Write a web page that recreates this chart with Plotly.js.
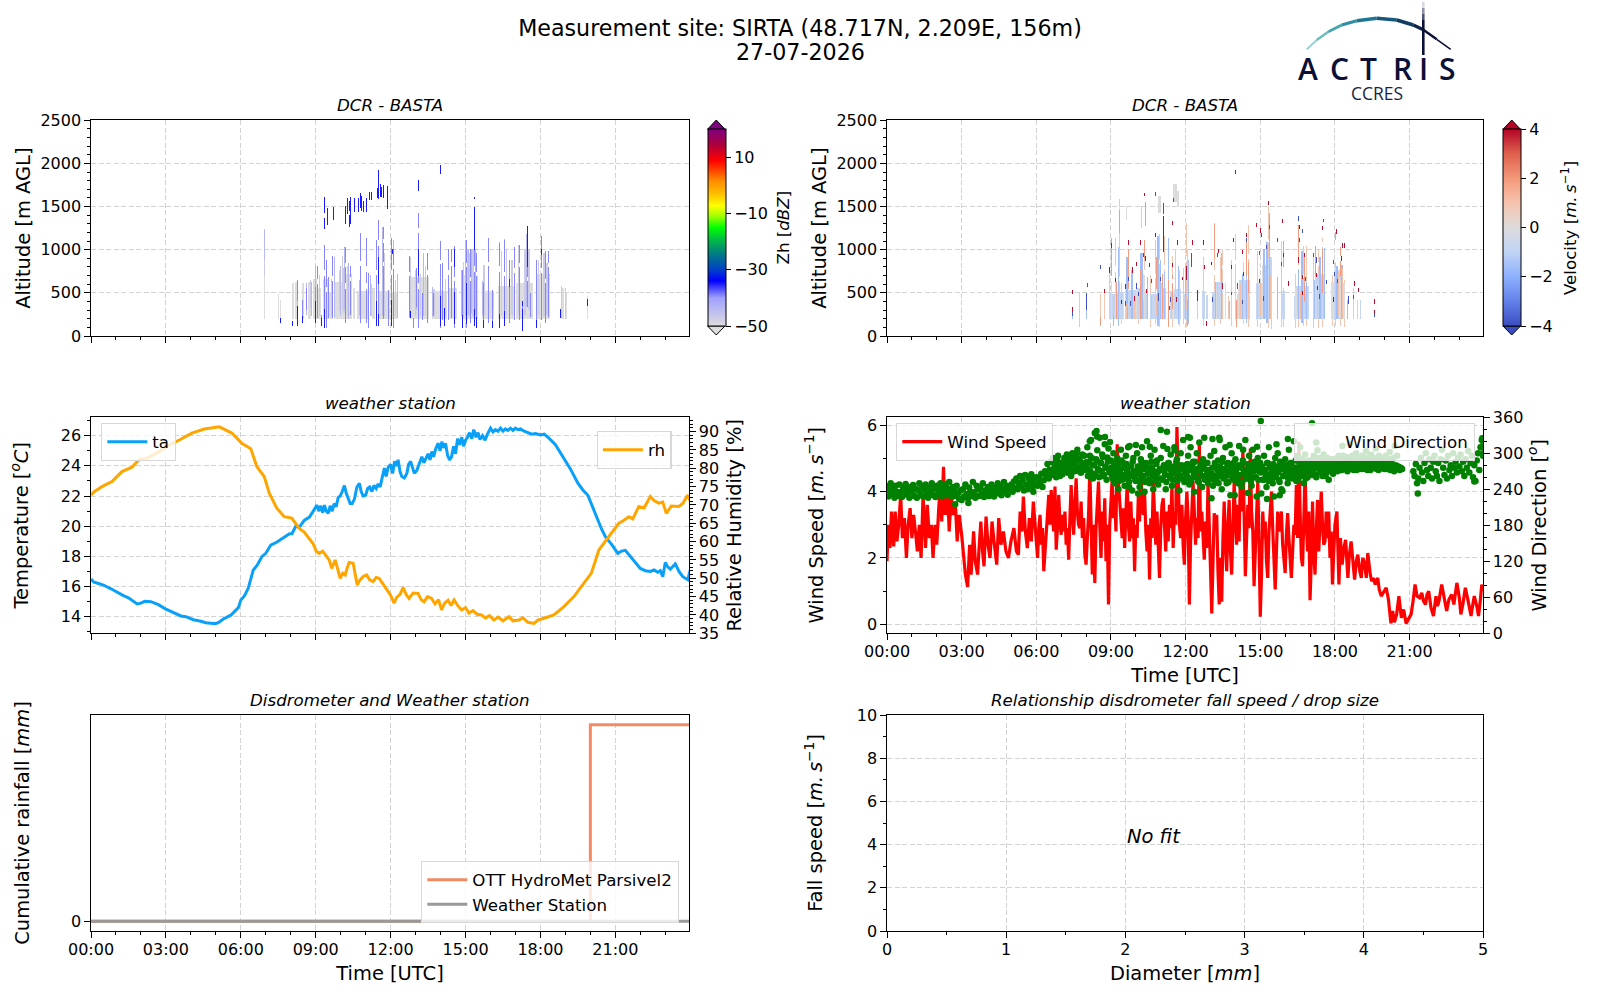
<!DOCTYPE html>
<html>
<head>
<meta charset="utf-8">
<script src="https://cdn.plot.ly/plotly-3.0.1.min.js"></script>
<style>
  body { margin: 0; background: #fff; }
  #chart { width: 1600px; height: 1000px; }
</style>
</head>
<body>
<div id="chart"></div>
<script>
// ---- tick labels ----
const timeTickVals = [0, 3, 6, 9, 12, 15, 18, 21];
const timeTickText = ['00:00', '03:00', '06:00', '09:00', '12:00', '15:00', '18:00', '21:00'];

// ---- radar curtains: [start hour, end hour, base m, top m] ----
const zhGrey = [[6.93,6.93,204,1230],[7.49,7.49,204,480],[7.57,7.57,204,420],[8.07,8.09,204,600],[8.2,8.28,204,620],[8.45,8.5,204,600],[8.68,8.78,204,620],[8.88,9.0,204,660],[9.02,9.2,204,560],[9.3,9.5,204,650],[9.55,9.66,204,500],[9.75,10.02,204,620],[10.06,10.4,204,720],[10.5,10.55,204,560],[10.65,11.1,204,520],[11.25,11.35,204,560],[11.55,11.95,204,520],[12.02,12.27,204,500],[12.8,13.55,204,680],[13.7,14.27,204,520],[14.35,14.65,204,560],[14.9,15.5,204,700],[15.7,16.15,204,520],[16.35,16.95,204,580],[17.05,17.7,204,600],[17.85,18.4,204,720],[18.85,18.95,204,560],[19.05,19.08,204,500],[19.9,19.9,204,450]];
const zhPale = [[6.93,6.93,700,1230],[8.27,8.27,300,620],[8.77,8.77,330,640],[9.15,9.15,240,700],[9.6,9.6,240,650],[9.95,9.95,300,760],[10.05,10.06,300,920],[10.12,10.13,280,780],[10.26,10.27,240,800],[10.76,10.77,240,1000],[11.08,11.08,260,720],[11.2,11.2,240,590],[11.7,11.72,240,960],[12.2,12.21,240,640],[12.82,12.83,240,900],[13.0,13.01,240,760],[13.2,13.23,260,720],[13.42,13.43,240,800],[13.75,13.76,240,540],[14.2,14.2,240,660],[14.45,14.45,250,860],[14.93,14.94,240,850],[15.05,15.08,240,1000],[15.18,15.2,240,960],[15.28,15.32,240,1000],[15.44,15.46,240,900],[15.75,15.76,260,820],[16.12,16.13,300,500],[16.46,16.47,260,980],[16.66,16.67,260,1000],[16.88,16.89,260,880],[17.15,17.16,250,1050],[17.4,17.41,260,1000],[17.55,17.58,300,1000],[17.92,17.93,260,880],[18.12,18.16,240,960],[18.27,18.3,260,840],[18.88,18.88,204,580],[19.0,19.0,204,560]];
const zhLight = [[6.93,6.93,900,1220],[8.24,8.24,240,560],[8.62,8.62,250,600],[8.8,8.8,240,620],[8.96,8.96,300,800],[9.72,9.72,230,900],[9.96,9.96,260,800],[10.15,10.16,300,1030],[10.3,10.3,200,840],[10.72,10.72,260,640],[11.18,11.18,240,700],[11.66,11.66,240,1260],[12.13,12.13,220,1100],[12.3,12.3,220,720],[12.79,12.79,220,920],[13.04,13.04,300,780],[13.34,13.34,240,950],[13.48,13.48,260,930],[13.7,13.7,230,570],[14.1,14.1,240,830],[14.32,14.32,260,1000],[14.85,14.85,240,760],[15.0,15.0,240,1110],[15.14,15.14,260,1000],[15.25,15.25,280,1000],[15.42,15.42,250,1000],[15.7,15.7,260,630],[15.93,15.93,250,1130],[16.37,16.37,210,1080],[16.57,16.57,230,1120],[16.77,16.77,280,880],[16.97,16.97,260,1030],[17.18,17.18,280,1060],[17.46,17.48,340,1180],[17.88,17.88,240,880],[18.08,18.08,240,1150],[18.2,18.2,240,980],[18.33,18.33,280,980]];
const zhMid = [[7.57,7.57,150,210],[8.27,8.27,420,640],[8.47,8.47,170,420],[8.6,8.6,300,550],[8.97,8.97,160,570],[9.05,9.05,220,800],[9.22,9.22,130,240],[9.34,9.34,300,1060],[9.4,9.4,110,880],[9.5,9.5,220,680],[9.67,9.67,220,920],[10.2,10.2,150,1030],[10.36,10.36,260,810],[10.76,10.76,150,1190],[11.01,11.01,150,1130],[11.11,11.11,110,730],[11.41,11.41,150,1110],[11.48,11.48,130,1340],[11.68,11.68,200,1260],[11.9,11.9,130,530],[12.06,12.06,150,1130],[12.15,12.15,110,1000],[12.78,12.78,230,920],[12.92,12.92,110,210],[13.04,13.04,340,780],[13.15,13.15,110,1420],[13.29,13.29,190,490],[13.49,13.49,150,950],[13.73,13.73,240,490],[14.0,14.0,110,1090],[14.09,14.09,190,840],[14.32,14.32,190,1010],[14.47,14.47,220,1000],[14.56,14.56,110,1040],[14.89,14.89,110,760],[15.07,15.07,110,1110],[15.2,15.2,150,1000],[15.36,15.36,130,1490],[15.47,15.47,110,960],[15.73,15.73,110,600],[15.93,15.93,150,1130],[16.11,16.11,110,530],[16.37,16.37,110,1070],[16.57,16.57,130,1110],[16.77,16.77,150,880],[16.97,16.97,190,1030],[17.17,17.17,190,1050],[17.3,17.3,70,400],[17.5,17.5,340,1265],[17.63,17.63,230,490],[17.88,17.88,110,880],[18.08,18.08,190,1150],[18.2,18.2,150,980],[18.33,18.33,230,980]];
const zhDark = [[7.57,7.57,155,205],[8.07,8.07,130,165],[8.27,8.27,130,340],[8.47,8.47,150,230],[8.97,8.97,160,400],[9.23,9.23,130,200],[9.34,9.34,110,300],[9.32,9.32,1240,1610],[9.36,9.36,1380,1560],[9.46,9.46,1290,1480],[9.68,9.68,1360,1490],[10.2,10.2,1300,1500],[10.26,10.26,1420,1590],[10.33,10.33,1270,1560],[10.38,10.38,1300,1600],[10.54,10.54,1440,1595],[10.7,10.7,1440,1590],[10.76,10.76,1490,1660],[10.82,10.82,1460,1620],[10.9,10.9,1440,1560],[11.03,11.03,1440,1590],[11.15,11.15,1575,1670],[11.2,11.2,1575,1670],[11.45,11.45,1600,1700],[11.48,11.48,1590,1920],[11.56,11.56,1620,1760],[11.62,11.62,1620,1720],[11.7,11.7,1600,1740],[11.86,11.86,1480,1730],[11.41,11.41,130,400],[11.48,11.48,130,260],[11.48,11.48,600,900],[12.06,12.06,130,420],[12.08,12.08,950,1010],[12.83,12.83,220,280],[13.15,13.15,1697,1805],[13.15,13.15,700,1000],[14.0,14.0,1875,1979],[14.0,14.0,130,450],[14.16,14.16,130,320],[14.56,14.56,140,500],[14.58,14.58,800,1000],[14.89,14.89,110,240],[15.07,15.07,140,600],[15.36,15.36,1000,1490],[15.36,15.36,1590,1600],[15.38,15.38,130,310],[15.47,15.47,110,220],[15.73,15.73,110,180],[16.11,16.11,110,170],[16.37,16.37,110,250],[16.57,16.57,130,280],[16.77,16.77,580,650],[17.3,17.3,70,300],[17.3,17.3,360,400],[17.5,17.5,800,1265],[17.88,17.88,110,180],[18.08,18.08,940,1010],[18.82,18.82,220,300],[19.9,19.9,360,430]];
// breaks in the tall strands, where the echo drops out
const zhHoles = [[9.32,9.32,1380,1420],[9.34,9.34,700,760],[9.4,9.4,520,570],[9.05,9.05,600,650],[9.67,9.67,640,690],[10.2,10.2,800,840],[10.2,10.2,560,600],[10.36,10.36,640,680],[10.33,10.33,1400,1440],[10.76,10.76,820,870],[11.01,11.01,760,800],[11.01,11.01,560,600],[11.41,11.41,720,760],[11.48,11.48,1060,1110],[11.68,11.68,820,860],[11.68,11.68,1080,1120],[12.06,12.06,720,760],[12.15,12.15,780,820],[12.78,12.78,700,740],[13.15,13.15,560,600],[13.15,13.15,1200,1240],[13.49,13.49,720,760],[14.0,14.0,840,880],[14.32,14.32,720,760],[14.47,14.47,820,860],[14.56,14.56,640,680],[15.07,15.07,800,840],[15.2,15.2,640,680],[15.36,15.36,760,800],[15.47,15.47,700,740],[15.93,15.93,820,860],[16.37,16.37,760,800],[16.57,16.57,700,740],[16.97,16.97,740,780],[17.17,17.17,800,840],[17.5,17.5,640,680],[18.08,18.08,740,780],[18.2,18.2,620,660],[18.33,18.33,800,840]];

const velPeachLong = [[7.72,7.72,120,500],[8.59,8.59,204,480],[8.74,8.74,204,500],[8.94,8.94,204,740],[9.18,9.18,204,1130],[9.32,9.32,204,1300],[9.32,9.32,1180,1580],[9.42,9.42,140,600],[9.9,9.9,204,520],[10.12,10.12,140,560],[10.34,10.34,204,1000],[10.22,10.22,1250,1500],[10.58,10.58,120,700],[10.76,10.76,140,1100],[10.92,10.92,120,1180],[11.0,11.0,204,600],[11.12,11.12,204,1160],[11.44,11.44,120,920],[11.58,11.58,204,1000],[11.72,11.72,130,760],[11.9,11.9,140,780],[12.04,12.04,120,1300],[12.1,12.1,130,1000],[12.51,12.51,204,530],[12.74,12.74,130,900],[13.08,13.08,204,500],[13.16,13.16,130,1300],[13.4,13.4,140,900],[13.5,13.5,204,1000],[13.72,13.72,204,460],[13.84,13.84,130,880],[14.0,14.0,204,1180],[14.34,14.34,140,860],[14.52,14.52,120,1280],[14.88,14.88,120,980],[15.34,15.34,110,1500],[15.46,15.46,90,820],[15.86,15.86,120,1090],[15.94,15.94,120,560],[16.42,16.42,110,720],[16.56,16.56,120,1240],[16.74,16.74,130,1040],[16.86,16.86,130,1040],[17.14,17.14,110,900],[17.32,17.32,110,1000],[17.5,17.5,120,1130],[17.9,17.9,130,700],[18.02,18.02,130,860],[18.22,18.22,130,1030],[18.38,18.38,120,640],[18.75,18.75,204,560],[18.9,18.9,204,420]];
const velPale = [[8.96,9.02,204,500],[9.06,9.2,204,480],[9.24,9.5,204,500],[9.56,10.0,204,530],[10.05,10.3,204,560],[10.36,10.41,204,520],[10.57,11.0,204,480],[11.04,11.17,204,560],[11.37,11.46,204,520],[11.52,11.77,204,540],[11.9,12.1,204,480],[12.71,12.76,204,520],[12.85,12.91,204,470],[13.11,13.22,204,500],[13.26,13.51,204,620],[14.11,14.14,204,480],[14.16,14.58,204,640],[14.85,15.08,204,600],[15.14,15.26,204,820],[15.3,15.45,204,900],[15.9,15.96,204,520],[16.38,16.42,204,460],[16.46,16.92,204,580],[17.12,17.2,204,520],[17.24,17.59,204,720],[17.85,17.88,204,620],[17.96,18.18,204,760],[18.24,18.3,204,800],[18.38,18.39,204,460],[18.9,18.9,204,420],[19.0,19.02,204,420]];
const velGrey = [[9.02,9.04,204,620],[9.2,9.22,204,600],[9.5,9.52,204,500],[10.0,10.02,204,560],[10.3,10.32,204,720],[11.02,11.02,204,500],[11.46,11.48,204,480],[13.22,13.24,204,540],[13.6,13.62,204,600],[14.14,14.14,204,540],[15.08,15.1,204,820],[15.26,15.28,204,900],[16.42,16.44,204,560],[17.2,17.22,204,640],[17.88,17.92,204,600],[18.18,18.2,204,640],[18.32,18.36,204,600],[10.9,10.98,1430,1620],[11.5,11.6,1560,1760],[11.66,11.68,1500,1680],[9.32,9.33,1300,1500],[9.61,9.61,1350,1500]];
const velSky = [[7.47,7.47,204,250],[8.02,8.02,204,300],[9.1,9.12,130,460],[9.3,9.3,130,1030],[9.62,9.64,204,900],[9.8,9.84,204,760],[10.2,10.24,204,960],[10.44,10.44,204,680],[10.86,10.88,130,1160],[10.96,10.96,204,880],[11.14,11.14,204,740],[11.28,11.28,204,1130],[11.7,11.7,140,800],[11.96,11.96,204,820],[12.12,12.12,140,880],[13.2,13.2,204,620],[13.44,13.44,204,950],[13.78,13.78,204,400],[14.3,14.3,204,720],[14.44,14.44,150,900],[15.14,15.16,204,1000],[15.26,15.28,150,1080],[15.36,15.38,204,1340],[15.68,15.68,204,680],[16.52,16.52,204,760],[16.66,16.68,150,980],[16.86,16.86,204,620],[17.18,17.18,204,640],[17.4,17.42,204,900],[17.58,17.58,204,1020],[18.08,18.1,204,800],[18.26,18.28,204,820],[18.5,18.5,204,420]];
const velPeachShort = [[9.1,9.1,260,440],[9.26,9.26,204,480],[9.44,9.44,300,500],[9.6,9.6,204,380],[9.74,9.74,260,500],[9.92,9.92,204,420],[10.14,10.14,320,540],[10.28,10.28,204,400],[10.62,10.62,204,460],[10.8,10.8,240,470],[10.94,10.94,204,440],[11.08,11.08,300,540],[11.42,11.42,204,500],[11.56,11.56,260,480],[11.74,11.74,204,400],[12.02,12.02,204,470],[12.06,12.06,300,470],[13.14,13.14,204,480],[13.3,13.3,240,600],[13.48,13.48,204,480],[14.2,14.2,204,600],[14.4,14.4,280,620],[14.54,14.54,204,620],[14.9,14.9,204,580],[15.04,15.04,240,590],[15.22,15.22,204,800],[15.42,15.42,204,700],[16.5,16.5,240,560],[16.62,16.62,204,500],[16.8,16.8,260,560],[17.28,17.28,204,700],[17.44,17.44,240,680],[17.56,17.56,204,600],[18.0,18.0,204,700],[18.14,18.14,240,740],[18.28,18.28,204,780]];
const velOrange = [[8.59,8.59,130,220],[9.02,9.02,700,1130],[9.22,9.22,204,620],[9.33,9.33,1210,1460],[9.7,9.7,560,1000],[10.18,10.18,204,760],[10.32,10.32,900,1100],[10.36,10.36,1280,1540],[10.8,10.8,560,900],[11.06,11.06,204,720],[11.3,11.3,120,640],[11.44,11.44,320,700],[12.02,12.02,500,1000],[12.1,12.1,130,420],[13.16,13.16,900,1290],[14.06,14.06,120,420],[14.47,14.47,700,1090],[14.52,14.52,500,860],[15.36,15.36,1000,1420],[15.92,15.92,800,1090],[16.56,16.56,900,1280],[16.76,16.76,400,960],[17.2,17.2,700,1040],[17.5,17.5,500,1000],[18.22,18.22,700,1030],[18.0,18.0,1120,1210]];
const velRed = [[7.47,7.47,495,525],[7.47,7.47,295,325],[8.74,8.74,505,540],[8.94,8.94,745,790],[9.02,9.02,1035,1070],[9.2,9.2,630,670],[9.57,9.57,550,590],[9.7,9.7,1070,1110],[9.87,9.87,745,790],[10.03,10.03,815,855],[10.17,10.17,1070,1110],[10.34,10.34,1625,1660],[10.37,10.37,880,920],[10.54,10.54,800,840],[10.78,10.78,1150,1190],[11.1,11.1,976,1380],[11.44,11.44,805,840],[11.46,11.46,1295,1330],[11.64,11.64,1070,1110],[11.84,11.84,650,685],[12.04,12.04,650,800],[12.28,12.28,1070,1110],[12.51,12.51,417,532],[12.75,12.75,1070,1110],[12.78,12.78,785,820],[12.84,12.84,130,165],[13.04,13.04,825,860],[13.35,13.35,970,1005],[13.84,13.84,785,820],[13.95,13.95,1095,1130],[14.0,14.0,1880,1920],[14.29,14.29,960,995],[14.47,14.47,1150,1190],[14.87,14.87,1265,1305],[15.0,15.0,1210,1245],[15.32,15.32,1525,1560],[15.88,15.88,1315,1350],[15.92,15.92,920,955],[16.12,16.12,590,630],[16.52,16.52,860,900],[16.58,16.58,1245,1285],[16.72,16.72,670,705],[16.78,16.78,920,955],[17.25,17.25,690,725],[17.48,17.48,1230,1265],[18.05,18.05,1190,1225],[18.25,18.25,880,920],[18.3,18.3,1035,1070],[18.36,18.36,1035,1070],[18.79,18.79,590,630],[18.95,18.95,515,550],[19.57,19.57,378,436],[19.57,19.57,240,290],[9.4,9.4,380,420],[9.95,9.95,420,460],[10.4,10.4,500,540],[11.62,11.62,400,440],[13.5,13.5,560,600],[14.32,14.32,700,740],[14.96,14.96,620,660],[16.68,16.68,480,520],[17.3,17.3,540,580],[17.95,17.95,400,440]];
const velBlue = [[7.47,7.47,245,280],[8.0,8.0,300,494],[8.05,8.05,575,610],[8.59,8.59,785,820],[9.57,9.57,360,400],[9.77,9.77,360,400],[10.3,10.3,920,955],[10.03,10.03,560,600],[10.6,10.6,620,660],[10.78,10.78,1630,1670],[10.9,10.9,417,494],[11.1,11.1,1420,1535],[11.5,11.5,1560,1590],[11.38,11.38,400,440],[12.0,12.0,1150,1190],[12.27,12.27,802,957],[13.08,13.08,400,440],[13.31,13.31,920,955],[13.84,13.84,480,510],[14.1,14.1,560,600],[14.47,14.47,1095,1130],[14.96,14.96,940,980],[15.05,15.05,1150,1190],[15.25,15.25,1015,1050],[15.38,15.38,1245,1285],[15.69,15.69,1095,1130],[15.84,15.84,820,860],[16.52,16.52,1345,1380],[16.58,16.58,1095,1130],[16.72,16.72,1200,1235],[17.12,17.12,920,955],[17.25,17.25,860,900],[17.56,17.56,1325,1360],[17.92,17.92,845,880],[17.98,17.98,700,740],[17.66,17.66,600,640],[18.52,18.52,378,455],[18.75,18.75,440,470],[19.57,19.57,225,260],[9.7,9.7,640,680],[10.12,10.12,470,510],[10.96,10.96,640,680],[11.32,11.32,300,340],[14.3,14.3,380,420],[15.14,15.14,420,460],[16.8,16.8,640,680],[17.36,17.36,440,480],[18.1,18.1,620,660]];
const velHoles = [[9.18,9.18,760,810],[9.32,9.32,640,680],[10.34,10.34,720,760],[10.76,10.76,680,720],[10.92,10.92,840,880],[11.12,11.12,780,820],[11.44,11.44,620,660],[12.04,12.04,880,920],[13.16,13.16,720,760],[13.5,13.5,780,820],[14.0,14.0,840,880],[14.52,14.52,900,940],[15.34,15.34,1080,1120],[15.86,15.86,820,860],[16.56,16.56,780,820],[16.74,16.74,680,720],[17.32,17.32,820,860],[17.5,17.5,1040,1080],[18.22,18.22,880,920]];

// ---- weather station ----
const tempHours = [0,0.1,0.3,0.5,0.8,1,1.3,1.5,1.7,1.85,2,2.15,2.4,2.7,3,3.3,3.6,3.8,4.1,4.4,4.6,4.9,5,5.1,5.3,5.6,5.9,6,6.15,6.3,6.5,6.65,6.85,7,7.2,7.45,7.75,7.95,8.05,8.2,8.35,8.55,8.75,9.05,9.12,9.2,9.28,9.35,9.42,9.5,9.58,9.66,9.74,9.82,9.9,9.98,10.06,10.15,10.22,10.3,10.38,10.46,10.55,10.65,10.75,10.82,10.9,11,11.08,11.16,11.25,11.33,11.42,11.5,11.58,11.66,11.75,11.82,11.9,12,12.08,12.16,12.24,12.3,12.38,12.45,12.55,12.65,12.72,12.8,12.88,12.95,13.05,13.15,13.25,13.33,13.4,13.5,13.58,13.65,13.72,13.8,13.9,13.98,14.05,14.12,14.2,14.28,14.36,14.44,14.52,14.6,14.68,14.76,14.85,14.92,15,15.08,15.16,15.25,15.33,15.42,15.5,15.58,15.68,15.78,15.88,16,16.1,16.2,16.3,16.4,16.5,16.6,16.7,16.8,16.9,17,17.1,17.2,17.35,17.5,17.65,17.8,18,18.15,18.3,18.6,18.9,19.2,19.5,19.7,19.9,20.1,20.3,20.45,20.6,20.85,21.1,21.25,21.4,21.7,22,22.2,22.4,22.55,22.7,22.8,22.9,23,23.1,23.2,23.3,23.4,23.55,23.7,23.9,24];
const tempValues = [16.5,16.3,16.2,16.1,15.85,15.65,15.4,15.25,15,14.85,14.9,15.02,15,14.8,14.5,14.25,14.05,14,13.8,13.7,13.6,13.55,13.55,13.6,13.85,14.1,14.6,15.1,15.4,15.9,17.1,17.4,18,18.2,18.75,18.95,19.3,19.5,19.5,20,19.95,20.4,20.6,21.4,21,21.35,20.9,21.4,21,20.85,21.35,21,21.5,21.3,21.9,22,22.3,22.7,22.2,21.9,21.5,21.5,21.8,22.6,22.85,22.3,22,22.05,22.5,22.6,22.3,22.7,22.5,22.8,22.6,23.2,23.85,23.3,23.9,24.1,23.5,24.3,24,24.4,23.6,23.3,23.2,23.5,24.1,24.3,23.8,23.5,23.7,24.2,24.6,24.2,24.5,24.8,24.4,24.95,24.6,25.1,25.5,25,25.6,25.2,25.5,24.7,24.4,24.6,25.3,24.8,25.8,25.4,25.9,25.3,25.7,25.9,26.2,25.8,26.4,25.9,26.2,25.75,26,25.7,26.1,26.5,26.25,26.4,26.3,26.5,26.3,26.45,26.35,26.5,26.35,26.5,26.4,26.45,26.3,26.2,26.1,26.15,26.05,26.1,25.9,25.4,24.6,23.8,22.85,22.4,22.05,21.2,20.4,19.8,19.3,18.8,18.2,18.35,18.4,17.8,17.2,17.05,17,17.1,16.95,17.05,16.65,17.6,17.3,17.15,17.3,17.5,17,16.65,16.45,17.1];
const rhHours = [0,0.14,0.44,0.84,1.24,1.64,1.94,2.24,2.74,3.14,3.54,4.04,4.54,5.14,5.64,6.04,6.4,6.64,6.94,7.14,7.44,7.74,8.04,8.34,8.54,8.74,8.9,9.02,9.14,9.28,9.44,9.54,9.64,9.78,9.9,9.98,10.08,10.18,10.26,10.34,10.5,10.66,10.76,10.9,11.04,11.16,11.3,11.42,11.54,11.7,11.84,12,12.14,12.24,12.38,12.5,12.62,12.74,12.9,13.1,13.22,13.34,13.48,13.64,13.78,13.92,14.04,14.16,14.3,14.42,14.54,14.68,14.84,15,15.14,15.3,15.46,15.64,15.8,15.96,16.14,16.3,16.5,16.74,16.9,17.14,17.3,17.5,17.74,17.9,18.14,18.54,18.94,19.34,20.04,20.34,20.64,20.9,21.14,21.3,21.54,21.7,21.94,22.15,22.4,22.55,22.74,22.9,23.04,23.24,23.54,23.7,23.9,24];
const rhValues = [72.7,73.7,75,76.4,79.1,80.3,82.5,82.7,84.6,86.4,87.7,89.6,90.7,91.3,89.6,86.8,85.3,80.5,77.7,73.2,69.1,66.8,66.4,63.6,62.6,60.9,59.4,57.4,56.8,57.4,55.9,55,52.7,55,52,50,51.4,50.9,52.8,54.3,54.1,48.2,49.4,50.5,50.9,49.6,49.1,50.2,50,48.4,47.3,45.4,43.2,44.8,45.6,47.5,45.6,44.5,46,45.9,44.2,43.6,45,44.5,43,44.2,41.4,43.2,44,42.6,44.1,42.6,41.4,42,40.5,41.2,40.2,40,39.2,39.8,38.6,39.4,38.4,39.5,38.4,38.6,39.2,38,37.7,38.6,39.1,40,42.3,45,51.4,57.7,60.5,62.8,65,65.6,66.8,66.2,69.6,69.2,72.3,71.2,70.5,70.8,67.7,69.7,69.6,70.4,72.7,71];

const windHours = [
  0,0.05,0.12,0.18,0.27,0.33,0.4,0.47,0.55,0.62,0.7,0.78,0.85,0.93,1,1.07,1.15,1.22,1.3,1.37,1.45,1.55,1.62,1.7,1.78,1.85,1.93,2,2.08,2.15,2.2,2.27,2.34,2.42,2.5,2.58,2.66,2.75,2.82,2.9,3,3.08,3.15,3.24,3.32,3.38,3.48,3.55,3.64,3.7,3.77,3.84,3.9,3.98,4.06,4.14,4.22,4.3,4.41,4.49,4.58,4.68,4.78,4.88,4.98,5.1,5.2,5.28,5.35,5.42,5.48,5.56,5.64,5.72,5.8,5.88,5.98,
  6,6.05,6.1,6.15,6.2,6.25,6.3,6.35,6.4,6.45,6.5,6.55,6.6,6.65,6.7,6.75,6.8,6.85,6.9,6.95,
  7,7.05,7.1,7.15,7.2,7.25,7.3,7.35,7.4,7.45,7.5,7.55,7.6,7.65,7.7,7.75,7.8,7.85,7.9,7.95,
  8,8.05,8.1,8.15,8.2,8.25,8.3,8.35,8.4,8.45,8.5,8.55,8.6,8.65,8.7,8.75,8.8,8.85,8.9,8.95,
  9,9.05,9.1,9.15,9.2,9.25,9.3,9.35,9.4,9.45,9.5,9.55,9.6,9.65,9.7,9.75,9.8,9.85,9.9,9.95,
  10,10.05,10.1,10.15,10.2,10.25,10.3,10.35,10.4,10.45,10.5,10.55,10.6,10.65,10.7,10.75,10.8,10.85,10.9,10.95,
  11,11.05,11.1,11.15,11.2,11.25,11.3,11.35,11.4,11.45,11.5,11.55,11.6,11.65,11.7,11.75,11.8,11.85,11.9,11.95,
  12,12.05,12.1,12.15,12.2,12.25,12.3,12.35,12.4,12.45,12.5,12.55,12.6,12.65,12.7,12.75,12.8,12.85,12.9,12.95,
  13,13.05,13.1,13.15,13.2,13.25,13.3,13.35,13.4,13.45,13.5,13.55,13.6,13.65,13.7,13.75,13.8,13.85,13.9,13.95,
  14,14.05,14.1,14.15,14.2,14.25,14.3,14.35,14.4,14.45,14.5,14.55,14.6,14.65,14.7,14.75,14.8,14.85,14.9,14.95,
  15,15.05,15.1,15.15,15.2,15.25,15.3,15.35,15.4,15.45,15.5,15.55,15.6,15.65,15.7,15.75,15.8,15.85,15.9,15.95,
  16,16.05,16.1,16.15,16.2,16.25,16.3,16.35,16.4,16.45,16.5,16.55,16.6,16.65,16.7,16.75,16.8,16.85,16.9,16.95,
  17,17.05,17.1,17.15,17.2,17.25,17.3,17.35,17.4,17.45,17.5,17.55,17.6,17.65,17.7,17.75,17.8,17.85,17.9,17.95,
  18,18.08,18.16,18.22,18.29,18.36,18.43,18.52,18.58,18.65,18.72,18.79,18.86,18.92,19,19.06,19.12,19.19,19.26,19.32,19.42,19.48,19.55,19.62,19.72,19.78,19.86,19.96,20.06,20.15,20.25,20.32,20.39,20.48,20.57,20.67,20.76,20.86,20.96,21.06,21.14,21.22,21.3,21.4,21.49,21.56,21.64,21.7,21.77,21.86,21.96,22.06,22.12,22.18,22.29,22.38,22.49,22.58,22.69,22.78,22.9,23,23.06,23.14,23.24,23.34,23.47,23.54,23.6,23.7,23.77,23.84,23.9,23.95
];
const windSpeed = [
  1.9,3.0,2.3,3.4,2.35,3.4,2.5,3.0,3.9,2.6,3.2,2.0,3.0,3.5,2.6,3.3,2.75,2.2,3.0,2.0,3.9,2.3,3.6,2.6,3.0,2.0,3.0,2.4,3.5,4.3,3.1,4.75,3.3,4.2,2.8,3.9,3.3,3.6,2.5,3.3,2.7,2.0,1.5,1.13,2.4,1.5,2.8,1.9,1.5,2.3,3.1,2.2,1.75,3.25,2.4,2.0,3.1,2.5,1.8,3.2,2.4,2.8,2.2,2.0,2.5,2.9,2.2,2.1,3.4,2.8,3.85,2.8,2.3,3.2,2.5,3.7,2.6,
  2.6,2.0,2.9,3.3,2.4,2.9,1.6,2.2,2.6,3.1,3.9,3.0,4.05,3.2,2.8,4.15,2.25,2.9,3.9,3.1,
  2.7,3.3,2.8,3.4,2.4,2.9,1.95,3.2,4.2,3.3,2.7,3.6,4.4,3.4,3.0,2.9,3.7,2.6,3.2,2.1,
  1.8,2.6,3.3,4.7,3.1,1.5,3.0,1.25,2.9,3.5,4.3,3.0,2.0,3.4,2.5,3.8,1.9,3.0,0.6,3.0,
  3.8,4.4,3.2,3.9,2.8,5.43,4.3,3.6,3.0,2.6,3.5,2.3,3.4,4.2,3.0,2.5,3.7,2.6,3.2,1.6,
  3.0,2.6,3.9,3.1,5.05,3.6,3.3,4.0,2.8,2.2,3.0,1.35,3.2,2.6,4.3,3.0,2.4,3.4,2.2,1.4,
  2.9,3.6,3.8,3.0,2.2,3.4,2.5,3.6,2.9,4.2,2.3,3.4,3.0,5.95,3.9,3.0,2.6,3.6,2.4,1.8,
  3.2,4.0,3.2,0.6,2.5,3.6,4.3,3.4,2.4,3.2,2.6,5.5,2.8,3.4,2.6,1.95,3.1,2.3,4.3,3.0,
  1.0,0.33,1.9,3.35,2.8,3.3,1.6,0.6,2.0,0.68,2.6,3.7,2.4,1.6,3.0,3.75,2.2,1.5,2.9,4.3,
  3.2,2.4,3.6,2.5,4.5,3.4,5.3,3.0,1.45,2.6,3.6,2.9,5.3,3.4,2.8,1.15,2.4,3.5,4.3,2.4,
  0.23,1.5,3.4,2.6,3.1,1.9,1.4,2.8,3.4,4.0,2.9,2.2,1.05,2.2,3.4,2.8,3.2,3.4,2.4,1.9,
  1.55,2.7,3.35,2.6,1.8,1.4,2.2,3.0,2.7,4.2,2.6,5.5,3.4,2.0,1.75,3.0,4.6,3.0,2.2,3.4,
  0.73,1.9,3.7,2.2,1.5,2.8,3.75,2.2,2.9,4.0,3.0,2.4,2.5,3.4,2.6,3.4,2.0,2.8,1.2,2.0,
  3.0,3.4,1.2,2.6,1.8,2.3,2.55,1.4,2.1,2.5,1.8,1.35,1.9,2.1,1.6,1.4,2.0,1.85,1.4,2.15,1.5,1.3,1.4,1.2,1.4,1.05,0.85,1.0,1.1,0.75,0.03,0.4,0.06,0.3,0.85,0.2,0.45,0.03,0.15,0.3,0.7,1.2,0.85,0.8,0.95,0.7,0.6,0.9,1.0,0.5,0.25,0.85,0.55,0.7,1.2,0.8,0.4,0.75,0.9,0.6,1.25,0.8,0.3,0.6,1.1,0.75,0.25,0.6,0.85,0.55,0.25,0.7,1.2,1.0
];

const windDirHours = [
  0,0.05,0.1,0.15,0.2,0.25,0.3,0.35,0.4,0.45,0.5,0.55,0.6,0.65,0.7,0.75,0.8,0.85,0.9,0.95,
  1,1.05,1.1,1.15,1.2,1.25,1.3,1.35,1.4,1.45,1.5,1.55,1.6,1.65,1.7,1.75,1.8,1.85,1.9,1.95,
  2,2.05,2.1,2.15,2.2,2.25,2.3,2.35,2.4,2.45,2.5,2.55,2.6,2.65,2.7,2.75,2.8,2.85,2.9,2.95,
  3,3.05,3.1,3.15,3.2,3.25,3.3,3.35,3.4,3.45,3.5,3.55,3.6,3.65,3.7,3.75,3.8,3.85,3.9,3.95,
  4,4.05,4.1,4.15,4.2,4.25,4.3,4.35,4.4,4.45,4.5,4.55,4.6,4.65,4.7,4.75,4.8,4.85,4.9,4.95,
  5,5.05,5.1,5.15,5.2,5.25,5.3,5.35,5.4,5.45,5.5,5.55,5.6,5.65,5.7,5.75,5.8,5.85,5.9,5.95,
  6,6.05,6.1,6.15,6.2,6.25,6.3,6.35,6.4,6.45,6.5,6.55,6.6,6.65,6.7,6.75,6.8,6.85,6.9,6.95,
  7,7.05,7.1,7.15,7.2,7.25,7.3,7.35,7.4,7.45,7.5,7.55,7.6,7.65,7.7,7.75,7.8,7.85,7.9,7.95,
  8,8.05,8.1,8.15,8.2,8.25,8.3,8.35,8.4,8.45,8.5,8.55,8.6,8.65,8.7,8.75,8.8,8.85,8.9,8.95,
  9,9.05,9.1,9.15,9.2,9.25,9.3,9.35,9.4,9.45,9.5,9.55,9.6,9.65,9.7,9.75,9.8,9.85,9.9,9.95,
  10,10.05,10.1,10.15,10.2,10.25,10.3,10.35,10.4,10.45,10.5,10.55,10.6,10.65,10.7,10.75,10.8,10.85,10.9,10.95,
  11,11.05,11.1,11.15,11.2,11.25,11.3,11.35,11.4,11.45,11.5,11.55,11.6,11.65,11.7,11.75,11.8,11.85,11.9,11.95,
  12,12.05,12.1,12.15,12.2,12.25,12.3,12.35,12.4,12.45,12.5,12.55,12.6,12.65,12.7,12.75,12.8,12.85,12.9,12.95,
  13,13.05,13.1,13.15,13.2,13.25,13.3,13.35,13.4,13.45,13.5,13.55,13.6,13.65,13.7,13.75,13.8,13.85,13.9,13.95,
  14,14.05,14.1,14.15,14.2,14.25,14.3,14.35,14.4,14.45,14.5,14.55,14.6,14.65,14.7,14.75,14.8,14.85,14.9,14.95,
  15,15.05,15.1,15.15,15.2,15.25,15.3,15.35,15.4,15.45,15.5,15.55,15.6,15.65,15.7,15.75,15.8,15.85,15.9,15.95,
  16,16.05,16.1,16.15,16.2,16.25,16.3,16.35,16.4,16.45,16.5,16.55,16.6,16.65,16.7,16.75,16.8,16.85,16.9,16.95,
  17,17.05,17.1,17.15,17.2,17.25,17.3,17.35,17.4,17.45,17.5,17.55,17.6,17.65,17.7,17.75,17.8,17.85,17.9,17.95,
  18,18.05,18.1,18.15,18.2,18.25,18.3,18.35,18.4,18.45,18.5,18.55,18.6,18.65,18.7,18.75,18.8,18.85,18.9,18.95,
  19,19.05,19.1,19.15,19.2,19.25,19.3,19.35,19.4,19.45,19.5,19.55,19.6,19.65,19.7,19.75,19.8,19.85,19.9,19.95,
  20,20.05,20.1,20.15,20.2,20.25,20.3,20.35,20.4,20.45,20.5,20.55,20.6,20.65,20.7,
  21.15,21.2,21.25,21.3,21.35,21.4,21.45,21.5,21.55,21.6,21.65,21.7,21.75,21.8,21.85,21.9,21.95,
  22,22.05,22.1,22.15,22.2,22.25,22.3,22.35,22.4,22.45,22.5,22.55,22.6,22.65,22.7,22.75,22.8,22.85,22.9,22.95,
  23,23.05,23.1,23.15,23.2,23.25,23.3,23.35,23.4,23.45,23.5,23.55,23.6,23.65,23.7,23.75,23.8,23.85,23.9,23.95,
  // stray samples away from the main band
  8.42,8.44,8.15,8.76,8.96,9.69,10,10.56,11,11.27,11.56,12.1,12.17,13.08,13.37,13.77,14.31,14.87,15.02,15.65,16.11,17.08,17.25,13.04,13.97,15.27,15.78,15.04,15.89,21.33,23.6,12.66,10.09,9.73,5.88,3.27,2.74,23.92,23.94,23.96,23.98
];
const windDirection = [
  245,228,238,250,232,242,226,246,236,229,248,235,227,243,238,249,231,240,226,244,
  236,247,229,241,226,238,250,232,245,228,240,248,233,226,243,236,250,230,241,227,
  246,233,240,250,228,243,235,248,230,241,252,236,227,244,238,229,246,233,224,238,
  222,240,228,248,232,225,243,236,229,252,235,226,246,240,229,243,233,250,227,238,
  232,244,229,240,248,234,228,242,237,250,233,244,230,240,252,236,246,231,243,238,
  248,236,253,242,258,240,250,262,245,255,238,264,248,240,258,250,265,244,256,248,
  260,246,258,250,266,244,255,270,262,282,258,272,264,285,266,276,260,288,270,262,
  278,265,285,272,290,268,296,278,262,300,282,270,292,306,276,288,268,298,280,272,
  285,310,270,296,322,280,262,334,290,305,272,326,284,298,262,315,276,293,308,268,
  288,262,300,250,278,292,240,270,306,256,284,246,296,270,260,312,278,238,292,266,
  254,300,270,244,290,310,262,236,284,320,268,250,296,276,240,306,262,288,248,272,
  292,258,312,270,240,336,284,262,298,246,276,310,256,290,268,238,300,274,322,252,
  280,262,296,248,310,272,286,236,268,300,254,318,278,244,290,326,262,284,250,272,
  296,266,246,304,278,254,288,326,262,240,292,272,310,250,284,268,230,300,276,256,
  290,264,250,312,278,244,288,272,322,258,234,296,268,246,306,280,260,228,292,270,
  284,272,256,296,268,244,284,310,262,276,250,228,292,268,300,256,286,240,278,262,
  290,272,250,306,264,284,258,320,276,254,296,268,310,262,282,250,298,272,260,288,
  284,276,264,296,284,260,305,280,272,288,262,298,278,268,292,256,284,274,290,270,
  278,290,270,296,282,272,312,284,276,294,270,288,316,278,296,272,286,300,276,290,
  274,288,296,278,284,304,272,290,280,298,275,286,292,308,278,272,294,283,288,276,
  284,296,276,290,302,282,274,292,312,280,296,278,272,276,274,
  270,262,282,250,258,276,292,268,254,284,300,272,262,290,276,258,286,
  296,270,262,284,254,290,306,276,264,288,258,296,272,280,262,300,276,286,268,292,
  278,298,270,286,262,290,276,304,268,284,296,260,280,254,288,300,272,310,322,296,
  337,328,320,327,319,310,314,311,339,307,305,327,326,324,322,314,306,311,354,315,324,350,318,225,230,224,230,233,237,233,253,244,233,244,236,217,215,325,312,300,318
];
// the solid core of the band from mid morning on
const windCoreHours = [
  6.525,6.575,6.625,6.675,6.725,6.775,6.825,6.875,6.925,6.975,7.025,7.075,7.125,7.175,7.225,7.275,7.325,7.375,7.425,7.475,7.525,7.575,7.625,7.675,7.725,7.775,7.825,7.875,7.925,7.975,
  8.025,8.075,8.125,8.175,8.225,8.275,8.325,8.375,8.425,8.475,8.525,8.575,8.625,8.675,8.725,8.775,8.825,8.875,8.925,8.975,
  9.025,9.075,9.125,9.175,9.225,9.275,9.325,9.375,9.425,9.475,9.525,9.575,9.625,9.675,9.725,9.775,9.825,9.875,9.925,9.975,
  10.025,10.075,10.125,10.175,10.225,10.275,10.325,10.375,10.425,10.475,10.525,10.575,10.625,10.675,10.725,10.775,10.825,10.875,10.925,10.975,
  11.025,11.075,11.125,11.175,11.225,11.275,11.325,11.375,11.425,11.475,11.525,11.575,11.625,11.675,11.725,11.775,11.825,11.875,11.925,11.975,
  12.025,12.075,12.125,12.175,12.225,12.275,12.325,12.375,12.425,12.475,12.525,12.575,12.625,12.675,12.725,12.775,12.825,12.875,12.925,12.975,
  13.025,13.075,13.125,13.175,13.225,13.275,13.325,13.375,13.425,13.475,13.525,13.575,13.625,13.675,13.725,13.775,13.825,13.875,13.925,13.975,
  14.025,14.075,14.125,14.175,14.225,14.275,14.325,14.375,14.425,14.475,14.525,14.575,14.625,14.675,14.725,14.775,14.825,14.875,14.925,14.975,
  15.025,15.075,15.125,15.175,15.225,15.275,15.325,15.375,15.425,15.475,15.525,15.575,15.625,15.675,15.725,15.775,15.825,15.875,15.925,15.975,
  16.025,16.075,16.125,16.175,16.225,16.275,16.325,16.375,16.425,16.475,16.525,16.575,16.625,16.675,16.725,16.775,16.825,16.875,16.925,16.975,
  17.025,17.075,17.125,17.175,17.225,17.275,17.325,17.375,17.425,17.475,17.525,17.575,17.625,17.675,17.725,17.775,17.825,17.875,17.925,17.975,
  18.025,18.075,18.125,18.175,18.225,18.275,18.325,18.375,18.425,18.475,18.525,18.575,18.625,18.675,18.725,18.775,18.825,18.875,18.925,18.975,
  19.025,19.075,19.125,19.175,19.225,19.275,19.325,19.375,19.425,19.475,19.525,19.575,19.625,19.675,19.725,19.775,19.825,19.875,19.925,19.975,
  20.025,20.075,20.125,20.175,20.225,20.275,20.325,20.375
];
const windCore = [
  272,286,266,292,276,268,282,296,274,264,284,270,292,278,298,268,286,276,294,270,288,280,300,272,290,268,284,276,296,280,
  275,262,286,270,292,258,280,266,288,274,260,284,270,294,264,278,256,286,272,268,
  276,258,284,268,262,280,254,272,288,264,276,258,282,268,252,278,262,286,270,256,
  264,278,254,270,284,260,274,252,280,266,256,276,286,262,270,254,282,268,258,274,
  272,256,280,264,252,276,284,260,270,256,278,266,286,254,272,262,280,258,276,268,
  268,282,258,272,254,278,264,286,260,274,252,270,282,262,276,256,272,284,264,258,
  266,276,256,284,262,272,250,278,268,286,258,274,262,282,252,270,278,260,284,268,
  272,258,280,264,276,252,284,268,258,274,282,262,254,278,270,286,260,272,256,280,
  268,278,256,272,262,284,254,276,266,258,282,270,260,278,268,252,274,284,262,272,
  264,280,258,274,284,268,260,276,288,266,256,282,272,290,264,278,258,286,270,276,
  282,268,290,274,264,284,276,292,268,280,272,288,262,278,286,270,282,274,266,290,
  284,276,292,280,288,272,296,282,276,290,278,286,274,294,282,276,288,272,284,292,
  278,288,274,292,282,276,286,294,272,284,290,278,288,274,282,296,276,286,280,274,
  282,274,288,278,272,284,276,270
];

// ---- cumulative rainfall ----
const parsivelHours = [0, 20, 20, 24];
const parsivelRain = [0, 0, 0.2, 0.2];
const stationHours = [0, 24];
const stationRain = [0, 0];

// ---- helpers ----
const TIME_BIN = 0.04;   // hours per heatmap column
const ALT_BIN = 12.5;    // metres per heatmap row
const px = (x) => x / 1600;
const py = (y) => 1 - y / 1000;

// paint the hand-read strands into a heatmap grid, later groups overwrite earlier ones
function curtainGrid(groups) {
  const nx = Math.round(24 / TIME_BIN);
  const ny = Math.round(2500 / ALT_BIN);
  const z = [];
  for (let j = 0; j < ny; j += 1) z.push(new Array(nx).fill(null));
  groups.forEach(([strands, value]) => {
    strands.forEach(([start, end, base, top]) => {
      const i0 = Math.floor(start / TIME_BIN);
      const i1 = Math.floor(end / TIME_BIN);
      const j0 = Math.floor(base / ALT_BIN);
      const j1 = Math.floor(top / ALT_BIN);
      for (let j = j0; j <= j1; j += 1) {
        for (let i = i0; i <= i1; i += 1) z[j][i] = value;
      }
    });
  });
  return {
    z,
    x: z[0].map((_, i) => (i + 0.5) * TIME_BIN),
    y: z.map((_, j) => (j + 0.5) * ALT_BIN),
  };
}

const zhColors = [[0, '#dddddd'], [0.143, '#a0a0ff'], [0.229, '#0000ff'], [0.286, '#0040c8'], [0.371, '#008080'], [0.443, '#00c040'], [0.5, '#00ff00'], [0.557, '#a0ff00'], [0.61, '#ffff00'], [0.67, '#ffc000'], [0.737, '#ff8c00'], [0.84, '#ff0000'], [0.926, '#a80040'], [1, '#800080']];
const velColors = [[0, '#3b4cc0'], [0.125, '#6282ea'], [0.25, '#8db0fe'], [0.375, '#c0d4f5'], [0.5, '#dddcdc'], [0.625, '#f5c4ad'], [0.75, '#f4987a'], [0.875, '#de604d'], [1, '#b40426']];

const TICK = { family: 'DejaVu Sans', size: 16, color: '#000' };
const LABEL = { family: 'DejaVu Sans', size: 19.44, color: '#000' };
const GRID = '#d3d3d3';
const GRID_DASH = '5px,2.5px';

function axisBase(extra) {
  return Object.assign({
    showline: true, linecolor: '#000', linewidth: 1.3, mirror: true,
    ticks: 'outside', ticklen: 5.5, tickwidth: 1.1, tickcolor: '#000',
    showgrid: true, gridcolor: GRID, griddash: GRID_DASH, gridwidth: 1,
    zeroline: false, tickfont: TICK,
  }, extra);
}
function timeAxis(domain, labelled, anchor) {
  return axisBase({
    domain, anchor, range: [0, 23.95], tickmode: 'array', tickvals: timeTickVals, ticktext: timeTickText,
    showticklabels: labelled, ticklabelstandoff: -2,
    minor: { ticks: 'outside', ticklen: 3, tickwidth: 1, tickcolor: '#000', dtick: 1, tick0: 0, showgrid: false },
    title: labelled ? { text: 'Time [UTC]', font: LABEL, standoff: 8 } : undefined,
  });
}
function valueAxis(domain, anchor, range, dtick, minor, text, standoff, extra) {
  return axisBase(Object.assign({
    domain, anchor, range, dtick, tick0: 0,
    minor: { ticks: 'outside', ticklen: 3, tickwidth: 1, tickcolor: '#000', dtick: minor, tick0: 0, showgrid: false },
    title: { text, font: LABEL, standoff },
  }, extra));
}
function rightAxis(over, domain, anchor, range, dtick, minor, text, standoff) {
  return {
    overlaying: over, side: 'right', anchor, domain, range, dtick, tick0: 0,
    showline: true, linecolor: '#000', linewidth: 1.3, ticks: 'outside', ticklen: 5.5, tickwidth: 1.1, tickcolor: '#000',
    showgrid: false, zeroline: false, tickfont: TICK,
    minor: { ticks: 'outside', ticklen: 3, tickwidth: 1, tickcolor: '#000', dtick: minor, tick0: 0, showgrid: false },
    title: { text, font: LABEL, standoff },
  };
}

const colLeft = [px(91), px(689)];
const colRight = [px(887), px(1483)];
const row1 = [py(336), py(120.3)];
const row2 = [py(633.3), py(417.3)];
const row3 = [py(931), py(715)];

const zhGrid = curtainGrid([[zhGrey, -50], [zhPale, -47], [zhLight, -44], [zhMid, -39], [zhDark, -35], [zhHoles, null]]);
const velGrid = curtainGrid([[velPeachLong, 0.9], [velPale, -0.8], [velGrey, 0], [velSky, -1.6], [velPeachShort, 1.1], [velOrange, 1.9], [velHoles, null], [velRed, 3.9], [velBlue, -3.9]]);

function colorbar(x, tickvals, ypxBottom, lenPx) {
  return {
    x: px(x), xanchor: 'left', y: py(ypxBottom), yanchor: 'bottom',
    thickness: 17.5, thicknessmode: 'pixels', len: lenPx, lenmode: 'pixels', xpad: 0, ypad: 0,
    outlinecolor: '#000', outlinewidth: 1, tickmode: 'array', tickvals,
    ticks: 'outside', ticklen: 5, tickwidth: 1.1, tickcolor: '#000', tickfont: TICK,
  };
}

const traces = [
  { type: 'heatmap', x: zhGrid.x, y: zhGrid.y, z: zhGrid.z, xaxis: 'x', yaxis: 'y', zmin: -50, zmax: 20, colorscale: zhColors, hoverinfo: 'skip', colorbar: colorbar(707.5, [-50, -30, -10, 10], 326, 196.7) },
  { type: 'heatmap', x: velGrid.x, y: velGrid.y, z: velGrid.z, xaxis: 'x2', yaxis: 'y2', zmin: -4, zmax: 4, colorscale: velColors, hoverinfo: 'skip', colorbar: colorbar(1503, [-4, -2, 0, 2, 4], 326, 196.7) },
  { type: 'scatter', mode: 'lines', name: 'ta', x: tempHours, y: tempValues, xaxis: 'x3', yaxis: 'y3', line: { color: '#08a0f8', width: 3 }, legend: 'legend' },
  { type: 'scatter', mode: 'lines', name: 'rh', x: rhHours, y: rhValues, xaxis: 'x3', yaxis: 'y7', line: { color: '#ffa500', width: 3 }, legend: 'legend2' },
  { type: 'scatter', mode: 'lines', name: 'Wind Speed', x: windHours, y: windSpeed, xaxis: 'x4', yaxis: 'y4', line: { color: '#ff0000', width: 3.2 }, legend: 'legend3' },
  { type: 'scatter', mode: 'markers', name: 'Wind Direction', x: windDirHours, y: windDirection, xaxis: 'x4', yaxis: 'y8', marker: { color: '#008000', size: 6.5 }, showlegend: false },
  { type: 'scatter', mode: 'markers', name: 'Wind Direction core', x: windCoreHours, y: windCore, xaxis: 'x4', yaxis: 'y8', marker: { color: '#008000', size: 6.5 }, showlegend: false },
  // the original handle for the scatter series is blank, only its label shows
  { type: 'scatter', mode: 'lines', name: 'Wind Direction', x: [null], y: [null], xaxis: 'x4', yaxis: 'y8', line: { color: 'rgba(0,0,0,0)', width: 3 }, legend: 'legend4' },
  { type: 'scatter', mode: 'lines', name: 'OTT HydroMet Parsivel2', x: parsivelHours, y: parsivelRain, xaxis: 'x5', yaxis: 'y5', line: { color: '#f58a62', width: 3 }, legend: 'legend5' },
  { type: 'scatter', mode: 'lines', name: 'Weather Station', x: stationHours, y: stationRain, xaxis: 'x5', yaxis: 'y5', line: { color: '#999999', width: 3 }, legend: 'legend5' },
  // empty trace keeps the last panel's axes on the page
  { type: 'scatter', mode: 'lines', x: [null], y: [null], xaxis: 'x6', yaxis: 'y6', showlegend: false, hoverinfo: 'skip' },
];

function legendBox(x, y, xanchor) {
  return {
    x: px(x), y: py(y), xanchor, yanchor: 'top', xref: 'paper', yref: 'paper',
    bgcolor: 'rgba(255,255,255,0.8)', bordercolor: '#d8d8d8', borderwidth: 1.3,
    font: { family: 'DejaVu Sans', size: 16.67, color: '#000' }, itemwidth: 40, tracegroupgap: 0,
  };
}

function subTitle(text, x, y) {
  return { text: '<i>' + text + '</i>', x: px(x), y: py(y), xref: 'paper', yref: 'paper', showarrow: false, xanchor: 'center', yanchor: 'middle', font: { family: 'DejaVu Sans', size: 16.67, color: '#000' } };
}
function logoLetter(text, x) {
  return { text, x: px(x), y: py(67.5), xref: 'paper', yref: 'paper', showarrow: false, height: 24, valign: 'middle', xanchor: 'center', yanchor: 'middle', font: { family: 'Open Sans', size: 30, color: '#0b1035', weight: 600 } };
}
function barTitle(text, x) {
  return { text, x: px(x), y: py(228), xref: 'paper', yref: 'paper', showarrow: false, textangle: -90, xanchor: 'center', yanchor: 'middle', font: { family: 'DejaVu Sans', size: 16.67, color: '#000' } };
}

// logo arc, drawn in short pieces so its colour can fade
const arcX = [1306.7, 1316.7, 1328.3, 1341.7, 1356.7, 1376.7, 1396.7, 1413.3, 1423.3, 1436.7, 1450.7];
const arcY = [49.3, 40, 31.7, 25, 20.7, 18.3, 20, 25, 29.7, 39.3, 49.3];
const arcColors = ['#8fd0cc', '#6bbcbc', '#45a5ac', '#2f8ea0', '#207690', '#17587a', '#123c60', '#0d2348', '#0b1035', '#0b1035'];
const arcWidths = [1.8, 2.3, 2.8, 3.2, 3.5, 3.6, 3.6, 3.4, 2.4, 1.6];
const logoShapes = arcColors.map((color, i) => ({
  type: 'line', xref: 'paper', yref: 'paper', x0: px(arcX[i]), y0: py(arcY[i]), x1: px(arcX[i + 1]), y1: py(arcY[i + 1]),
  line: { color, width: arcWidths[i] },
}));
const mastY = [2, 8, 14, 20, 55];
const mastColors = ['#d8d9e2', '#9092a8', '#50536f', '#0b1035'];
mastColors.forEach((color, i) => {
  logoShapes.push({ type: 'line', xref: 'paper', yref: 'paper', x0: px(1423.3), y0: py(mastY[i]), x1: px(1423.3), y1: py(mastY[i + 1]), line: { color, width: 2.6 } });
});

function extendTip(x0, x1, yBase, yTip, color) {
  const mid = (x0 + x1) / 2;
  return {
    type: 'path', xref: 'paper', yref: 'paper', fillcolor: color, line: { color: '#000', width: 1 },
    path: `M ${px(x0)} ${py(yBase)} L ${px(mid)} ${py(yTip)} L ${px(x1)} ${py(yBase)} Z`,
  };
}

const layout = {
  width: 1600,
  height: 1000,
  margin: { l: 0, r: 0, t: 0, b: 0 },
  paper_bgcolor: '#fff',
  plot_bgcolor: '#fff',
  title: { text: 'Measurement site: SIRTA (48.717N, 2.209E, 156m)', x: 0.5, xanchor: 'center', y: py(28.6), yanchor: 'middle', font: { family: 'DejaVu Sans', size: 22.2, color: '#000' } },

  xaxis: timeAxis(colLeft, false, 'y'),
  yaxis: valueAxis(row1, 'x', [0, 2500], 500, 100, 'Altitude [m AGL]', 4),
  xaxis2: timeAxis(colRight, false, 'y2'),
  yaxis2: valueAxis(row1, 'x2', [0, 2500], 500, 100, 'Altitude [m AGL]', 4),
  xaxis3: timeAxis(colLeft, false, 'y3'),
  yaxis3: valueAxis(row2, 'x3', [12.9, 27.22], 2, 1, 'Temperature [<i><sup>o</sup>C</i>]', 26),
  yaxis7: rightAxis('y3', row2, 'x3', [35, 93.9], 5, 1, 'Relative Humidity [%]', 9),
  xaxis4: timeAxis(colRight, true, 'y4'),
  yaxis4: valueAxis(row2, 'x4', [-0.27, 6.24], 2, 1, 'Wind Speed [<i>m.\u2009s</i><sup>−1</sup>]', 38),
  yaxis8: rightAxis('y4', row2, 'x4', [0, 360], 60, 20, 'Wind Direction [<i><sup>o</sup></i>]', 9),
  xaxis5: timeAxis(colLeft, true, 'y5'),
  yaxis5: valueAxis(row3, 'x5', [-0.01, 0.21], 1, 1, 'Cumulative rainfall [<i>mm</i>]', 36, { tickmode: 'array', tickvals: [0], ticktext: ['0'], minor: { ticks: '' } }),
  xaxis6: axisBase({ domain: colRight, anchor: 'y6', range: [0, 5], dtick: 1, tick0: 0, ticklabelstandoff: -2, minor: { ticks: 'outside', ticklen: 3, tickwidth: 1, tickcolor: '#000', dtick: 0.5, tick0: 0, showgrid: false }, title: { text: 'Diameter [<i>mm</i>]', font: LABEL, standoff: 8 } }),
  yaxis6: valueAxis(row3, 'x6', [0, 10], 2, 1, 'Fall speed [<i>m.\u2009s</i><sup>−1</sup>]', 28),

  legend: legendBox(101, 423, 'left'),
  legend2: legendBox(671.6, 431, 'right'),
  legend3: legendBox(896, 423, 'left'),
  legend4: legendBox(1475, 423, 'right'),
  legend5: legendBox(679, 861, 'right'),

  annotations: [
    { text: '27-07-2026', x: 0.5, y: py(52), xref: 'paper', yref: 'paper', showarrow: false, xanchor: 'center', yanchor: 'middle', font: { family: 'DejaVu Sans', size: 22.2, color: '#000' } },
    subTitle('DCR - BASTA', 390, 106),
    subTitle('DCR - BASTA', 1185, 106),
    subTitle('weather station', 390, 403),
    subTitle('weather station', 1185, 403),
    subTitle('Disdrometer and Weather station', 390, 700),
    subTitle('Relationship disdrometer fall speed / drop size', 1185, 700),
    { text: '<i>No fit</i>', x: 2, y: 4, xref: 'x6', yref: 'y6', yshift: -5, showarrow: false, xanchor: 'left', yanchor: 'bottom', font: { family: 'DejaVu Sans', size: 19.44, color: '#000' } },
    barTitle('Zh [<i>dBZ</i>]', 783.5),
    barTitle('Velocity [<i>m.\u2009s</i><sup>−1</sup>]', 1569),
    logoLetter('A', 1307.7),
    logoLetter('C', 1339),
    logoLetter('T', 1368.3),
    logoLetter('R', 1402),
    logoLetter('I', 1423.3),
    logoLetter('S', 1447.3),
    { text: 'CCRES', x: px(1376.7), y: py(92.5), xref: 'paper', yref: 'paper', showarrow: false, xanchor: 'center', yanchor: 'middle', font: { family: 'Open Sans', size: 17.5, color: '#1a1f45' } },
  ],
  shapes: logoShapes.concat([
    extendTip(707.5, 725, 129.3, 120, '#800080'),
    extendTip(707.5, 725, 326, 335, '#dddddd'),
    extendTip(1503, 1520.5, 129.3, 120, '#b40426'),
    extendTip(1503, 1520.5, 326, 335, '#3b4cc0'),
  ]),
};

Plotly.newPlot('chart', traces, layout, { displayModeBar: false, responsive: false });
</script>
</body>
</html>
